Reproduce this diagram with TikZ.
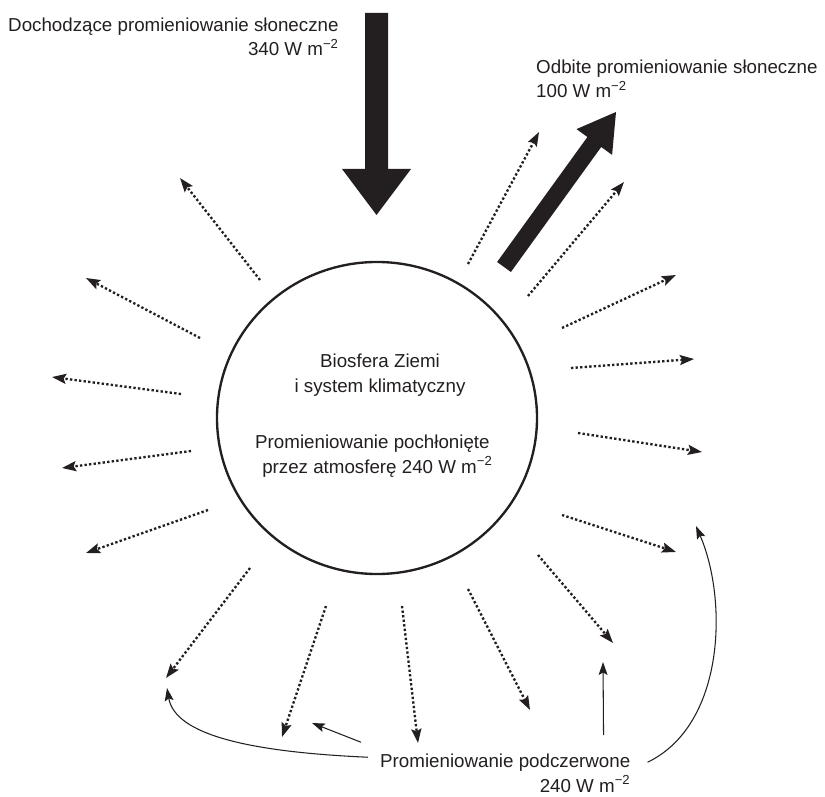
\documentclass[tikz,border=0pt]{standalone}
\usepackage{fontspec}
\setmainfont{Liberation Sans}
\usetikzlibrary{arrows.meta,shapes.geometric}
\definecolor{ink}{HTML}{231F20}
\tikzset{
  ir/.style={ink, line width=2pt, dash pattern=on 2pt off 1.9pt, -{Stealth[length=12pt,width=8.5pt,inset=2pt]}},
  feed/.style={ink, line width=0.9pt, -{Stealth[length=11pt,width=7.5pt,inset=2pt]}},
  txt/.style={inner sep=0pt, text=ink, font=\fontsize{16}{21.3}\selectfont},
}
\begin{document}
\begin{tikzpicture}[x=0.03cm, y=-0.03cm]
  \useasboundingbox (0,0) rectangle (825,796);
  \node[txt, anchor=base west, align=right] (sunin) at (8,56)
    {Dochodzące promieniowanie słoneczne\\340 W m\textsuperscript{−2}};
  \node[txt, anchor=base west, align=left] (sunout) at (536,98)
    {Odbite promieniowanie słoneczne\\100 W m\textsuperscript{−2}};
  \node[draw, ink, ellipse, line width=2pt, minimum width=9.6cm, minimum height=9.36cm, inner sep=0pt] (earth) at (377,418) {};
  \node[txt, anchor=base, align=center] (bio) at (380,392)
    {Biosfera Ziemi\\i system klimatyczny};
  \node[txt, anchor=base west, align=left] (absorb) at (255,473)
    {Promieniowanie pochłonięte\\\hspace{6pt}przez atmosferę 240 W m\textsuperscript{−2}};
  \node[txt, anchor=base west, align=right] (irlabel) at (380,792)
    {Promieniowanie podczerwone\\240 W m\textsuperscript{−2}};
  \fill[ink] (365,13) -- (388,13) -- (388,169) -- (411,169) -- (376.5,215)
    -- (342,169) -- (365,169) -- cycle;
  \fill[ink] (510.9,272) -- (601.2,147) -- (612.1,154.9) -- (616,112)
    -- (576.5,129.1) -- (587.4,137) -- (497.1,262) -- cycle;
  \path
    (260,280) coordinate (s1)  (180,178) coordinate (e1)
    (200,338) coordinate (s2)  (86,278)  coordinate (e2)
    (181,394) coordinate (s3)  (52,377)  coordinate (e3)
    (191,451) coordinate (s4)  (62,468)  coordinate (e4)
    (208,510) coordinate (s5)  (86,553)  coordinate (e5)
    (250,568) coordinate (s6)  (166,678) coordinate (e6)
    (326,606) coordinate (s7)  (282,737) coordinate (e7)
    (402,606) coordinate (s8)  (418,743) coordinate (e8)
    (468,589) coordinate (s9)  (530,710) coordinate (e9)
    (538,555) coordinate (s10) (613,643) coordinate (e10)
    (562,515) coordinate (s11) (676,552) coordinate (e11)
    (578,433) coordinate (s12) (702,452) coordinate (e12)
    (571,368) coordinate (s13) (694,359) coordinate (e13)
    (562,328) coordinate (s14) (676,275) coordinate (e14)
    (528,296) coordinate (s15) (624,182) coordinate (e15)
    (468,264) coordinate (s16) (539,132) coordinate (e16);
  \begin{scope}[ir]
    \draw (s1) to (e1);
    \draw (s2) to (e2);
    \draw (s3) to (e3);
    \draw (s4) to (e4);
    \draw (s5) to (e5);
    \draw (s6) to (e6);
    \draw (s7) to (e7);
    \draw (s8) to (e8);
    \draw (s9) to (e9);
    \draw (s10) to (e10);
    \draw (s11) to (e11);
    \draw (s12) to (e12);
    \draw (s13) to (e13);
    \draw (s14) to (e14);
    \draw (s15) to (e15);
    \draw (s16) to (e16);
  \end{scope}
  \path
    (167,688) coordinate (f1)
    (312,723) coordinate (f2)
    (603,662) coordinate (f3)
    (696,526) coordinate (f4);
  \begin{scope}[feed]
    \draw (irlabel.north west) ++(-12,4) .. controls (250,752) and (175,735) .. (f1);
    \draw (irlabel.north west) ++(-19,-11) -- (f2);
    \draw (irlabel.north east) ++(-27,-18) -- (f3);
    \draw (irlabel.north east) ++(17,9) .. controls (725,725) and (728,600) .. (f4);
  \end{scope}
\end{tikzpicture}
\end{document}
